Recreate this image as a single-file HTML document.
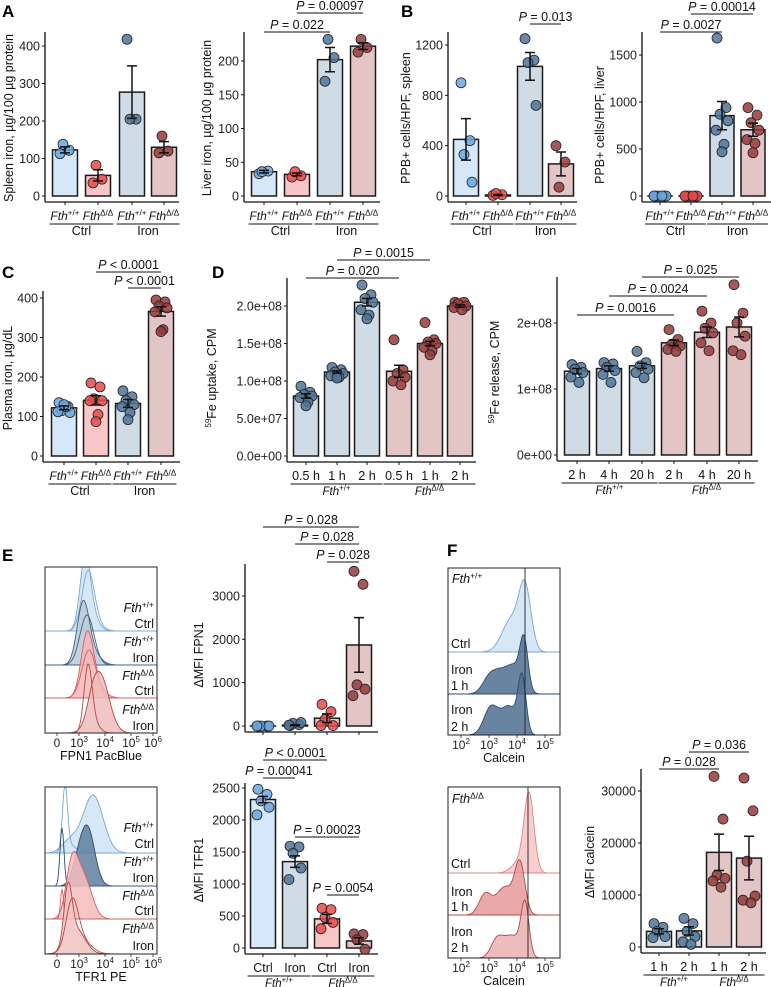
<!DOCTYPE html>
<html><head><meta charset="utf-8">
<style>
html,body{margin:0;padding:0;background:#fff;}
svg{display:block;font-family:"Liberation Sans",Arial,sans-serif;}
</style></head>
<body>
<svg id="fig" width="771" height="987" viewBox="0 0 771 987" xmlns="http://www.w3.org/2000/svg">
<text x="2" y="17" font-size="17" font-weight="bold">A</text>
<text x="401" y="17" font-size="17" font-weight="bold">B</text>
<text x="2" y="278" font-size="17" font-weight="bold">C</text>
<text x="212" y="278" font-size="17" font-weight="bold">D</text>
<text x="2" y="561" font-size="17" font-weight="bold">E</text>
<text x="447" y="556" font-size="17" font-weight="bold">F</text>
</svg>
<script>
// ---------- DATA ----------
const spleenMeans=[123,55,277,130];
const spleenSem=[8,15,70,15];
const spleenPts=[[113,122,138],[35,45,82],[418,205,205],[115,120,160]];
const liverMeans=[36,32,202,222];
const liverSem=[2,2,18,5];
const liverPts=[[33,37,36],[28,30,36],[170,205,232],[213,220,232]];
const ppbSpleenMeans=[450,8,1030,255];
const ppbSpleenSem=[165,4,110,95];
const ppbSpleenPts=[[900,440,330,110],[5,10,20],[1250,1080,1060,720],[400,270,70]];
const ppbLiverMeans=[0,0,855,705];
const ppbLiverSem=[0,0,150,70];
const ppbLiverPts=[[0,0,0,0,0,0],[0,0,0,0,0,0],[1680,940,870,800,700,550,470],[940,860,780,700,600,560,460]];
const plasmaMeans=[122,141,133,366];
const plasmaSem=[5,12,10,12];
const plasmaPts=[[135,125,115,110,112,125,130],[185,175,145,140,140,105,87],[165,150,140,130,125,110,92],[395,390,380,375,365,320,315]];
const uptakeMeans=[80,112,205,113,150,200]; // x1e6 CPM
const uptakeSem=[3,1.5,5,8,3,1.5];
const uptakePts=[[93,85,82,80,78,72,67],[118,115,112,110,107,105,104],[228,215,210,205,195,188,183],[155,115,110,105,100,95],[178,155,152,150,145,140,135],[205,205,203,200,198,195]];
const releaseMeans=[127,131,135,170,186,194]; // x1e6 CPM
const releaseSem=[4,4,4,4,8,15];
const releasePts=[[137,133,130,125,118,110],[140,138,133,128,122,110],[157,140,135,130,125,117],[190,175,168,165,160,157],[218,200,192,185,170,158],[258,215,200,180,158,152]];
const fpnMeans=[0,20,180,1870];
const fpnSem=[0,10,100,630];
const fpnPts=[[0,0,0,0,0],[10,30,60,80,20],[500,330,150,10,10],[3570,3270,950,850,700]];
const tfrMeans=[2320,1350,455,110];
const tfrSem=[50,90,70,50];
const tfrPts=[[2480,2400,2300,2200,2080],[1590,1580,1480,1250,1070],[620,600,480,400,300],[220,210,130,-20]];
const calceinMeans=[3000,3100,18200,17100];
const calceinSem=[500,800,3500,4200];
const calceinPts=[[4500,3800,3000,2000,1800],[5500,4500,3000,2000,1000,500],[32800,24600,13800,13200,12700,11500],[32500,26200,16500,9800,9000,8500]];

const ticks400=[0,100,200,300,400];
const ticks200=[0,50,100,150,200];
const ticks1200=[0,400,800,1200];
const ticks1500=[0,500,1000,1500];
const uptakeTicks=[0,50,100,150,200];
const uptakeTickLabels=["0.0e+00","5.0e+07","1.0e+08","1.5e+08","2.0e+08"];
const releaseTicks=[0,100,200];
const releaseTickLabels=["0e+00","1e+08","2e+08"];
const fpnTicks=[0,1000,2000,3000];
const tfrTicks=[0,500,1000,1500,2000,2500];
const calceinTicks=[0,10000,20000,30000];

// histogram components [center px, sd px, amplitude px]
const fpnHist=[
 [{fill:"#cfe3f5",stroke:"#7aa7d0",c:[[85,5,62],[90,7,20]]},{fill:"none",stroke:"#7aa7d0",c:[[88,6,52],[92,8,10]]}],
 [{fill:"#b9c9d8",stroke:"#3f6184",c:[[83,6,58],[92,8,12]]},{fill:"none",stroke:"#3f6184",c:[[87,7,50]]}],
 [{fill:"#f4b7b7",stroke:"#d06060",c:[[87,6,58],[95,8,15]]},{fill:"none",stroke:"#d06060",c:[[89,7,48]]}],
 [{fill:"#eebcbc",stroke:"#b04848",c:[[100,9,58],[92,5,10]]},{fill:"none",stroke:"#b04848",c:[[88,4,62],[93,6,10]]}]
];
const tfrHist=[
 [{fill:"#cfe3f5",stroke:"#7aa7d0",c:[[93,10,58],[70,8,12]]},{fill:"none",stroke:"#7aa7d0",c:[[65,2.5,63],[70,6,8]]}],
 [{fill:"#5f7f9f",stroke:"#2d4a69",c:[[88,7,55],[78,6,20]]},{fill:"none",stroke:"#2d4a69",c:[[62,2,58]]}],
 [{fill:"#f4bcbc",stroke:"#d06060",c:[[72,6,52],[84,8,40]]},{fill:"none",stroke:"#d06060",c:[[62,1.5,30]]}],
 [{fill:"#f2c2c2",stroke:"#b04848",c:[[68,4,55],[76,9,25]]},{fill:"none",stroke:"#b04848",c:[[72,6,45],[80,10,15]]}]
];
const calceinWtHist=[
 [{fill:"#cfe3f5",stroke:"#7aa7d0",c:[[525,6,62],[511,9,32]]}],
 [{fill:"#4f6f90",stroke:"#2d4a69",c:[[524,4,48],[513,8,28],[490,7,18],[500,6,12]]}],
 [{fill:"#4f6f90",stroke:"#2d4a69",c:[[522,4,58],[511,6,22],[491,7,28],[503,6,12]]}]
];
const calceinKoHist=[
 [{fill:"#f6c4c4",stroke:"#d88a8a",c:[[529,5,78],[518,7,10]]}],
 [{fill:"#e59a9a",stroke:"#b04848",c:[[520,5,48],[505,9,28],[485,6,20]]}],
 [{fill:"#eab0b0",stroke:"#b04848",c:[[525,4,52],[512,8,22],[497,6,18]]}]
];

// ---------- DRAWING ----------
const NS="http://www.w3.org/2000/svg";
const svg=document.getElementById('fig');
function mk(tag,attrs,parent){const e=document.createElementNS(NS,tag);for(const k in attrs)e.setAttribute(k,attrs[k]);(parent||svg).appendChild(e);return e;}
const COL={
 cw:{fill:"#d5e7f8",pt:"#6aa6dd"},
 ck:{fill:"#f8c6c6",pt:"#e64a4a"},
 iw:{fill:"#cfdbe5",pt:"#4d7499"},
 ik:{fill:"#e3c5c5",pt:"#963a3a"}
};
const jit=[-5,4,-2,6,-6,2,0];

function fthText(g,x,y,kind,size,anchor){
  const t=mk('text',{x:x,y:y,'font-size':size,'text-anchor':anchor||'middle',fill:'#111'},g);
  
  
  const a=mk('tspan',{'font-style':'italic'},t);a.textContent='Fth';
  const b=mk('tspan',{'font-size':size*0.68,dy:-size*0.38},t);b.textContent=kind==='wt'?'+/+':'Δ/Δ';
  return t;
}

function panel(cfg){
  const g=mk('g',{});
  
  
  const Y=v=>cfg.y0-v*(cfg.y0-cfg.topPx)/cfg.topVal;
  const xa=cfg.y0+6;
  const ax=mk('line',{x1:cfg.ax,y1:cfg.axisTop,x2:cfg.ax,y2:xa,stroke:'#111','stroke-width':1.3},g);
  
  
  const xl=mk('line',{x1:cfg.ax,y1:xa,x2:cfg.xEnd,y2:xa,stroke:'#111','stroke-width':1.3},g);
  
  
  cfg.ticks.forEach((v,i)=>{
    const y=Y(v);
    const tk=mk('line',{x1:cfg.ax-3,y1:y,x2:cfg.ax,y2:y,stroke:'#111','stroke-width':1},g);
    
    
    const tl=mk('text',{x:cfg.ax-5,y:y+4.5,'font-size':12.5,'text-anchor':'end',fill:'#222'},g);
    
    
    tl.textContent=cfg.tickLabels?cfg.tickLabels[i]:String(v);
  });
  cfg.centers.forEach(c=>{
    const tk=mk('line',{x1:c,y1:xa,x2:c,y2:xa+3,stroke:'#111','stroke-width':1},g);
    
    
  });
  cfg.means.forEach((m,i)=>{
    const c=cfg.centers[i],col=COL[cfg.colors[i]],bw=cfg.bw;
    const r=mk('rect',{x:c-bw/2,y:Y(m),width:bw,height:Math.max(cfg.y0-Y(m),0.01),fill:col.fill,stroke:'#1a1a1a','stroke-width':1.5},g);
    
    
  });
  cfg.means.forEach((m,i)=>{
    const c=cfg.centers[i],col=COL[cfg.colors[i]];
    cfg.pts[i].forEach((v,j)=>{
      const p=mk('circle',{cx:c+jit[j%jit.length],cy:Y(v),r:5,fill:col.pt,'fill-opacity':0.85,stroke:'#222','stroke-width':0.8},g);
      
      
    });
    const s=cfg.sems[i];
    if(s>0){
      const e=mk('path',{d:`M${c},${Y(m-s)}V${Y(m+s)}M${c-5},${Y(m-s)}H${c+5}M${c-5},${Y(m+s)}H${c+5}`,stroke:'#111','stroke-width':1.5,fill:'none'},g);
      
      
    }
  });
  const yt=mk('text',{x:0,y:0,'font-size':12.5,'text-anchor':'middle',fill:'#111',transform:`translate(${cfg.titleX},${cfg.titleY}) rotate(-90)`},g);
  
  
  if(cfg.titleSup){const s=mk('tspan',{'font-size':8,dy:-5},yt);s.textContent=cfg.titleSup;const r=mk('tspan',{dy:5},yt);r.textContent=cfg.title;}
  else yt.textContent=cfg.title;
  const lb=xa+18;
  if(cfg.xlabels){
    cfg.xlabels.forEach((l,i)=>{
      if(l==='wt'||l==='ko') fthText(g,cfg.centers[i],lb,l,12);
      else{const t=mk('text',{x:cfg.centers[i],y:lb,'font-size':12.5,'text-anchor':'middle',fill:'#111'},g);
        
        
        t.textContent=l;}
    });
  }
  (cfg.groups||[]).forEach(gr=>{
    const x1=cfg.centers[gr.from]-cfg.bw/2-3,x2=cfg.centers[gr.to]+cfg.bw/2+3;
    const ul=mk('line',{x1:x1,y1:lb+4,x2:x2,y2:lb+4,stroke:'#111','stroke-width':1},g);
    
    
    const cx=(x1+x2)/2;
    if(gr.label==='wt'||gr.label==='ko') fthText(g,cx,lb+15,gr.label,11.5);
    else{const t=mk('text',{x:cx,y:lb+15,'font-size':12.5,'text-anchor':'middle',fill:'#111'},g);
      
      
      t.textContent=gr.label;}
  });
  (cfg.brackets||[]).forEach(b=>{
    const x1=cfg.centers[b.a],x2=cfg.centers[b.b];
    const l=mk('line',{x1:x1,y1:b.y,x2:x2,y2:b.y,stroke:'#111','stroke-width':1},g);
    
    
    const t=mk('text',{x:(x1+x2)/2,y:b.y-3,'font-size':12.5,'text-anchor':'middle',fill:'#111'},g);
    
    
    const p=mk('tspan',{'font-style':'italic'},t);p.textContent='P';
    const r=mk('tspan',{},t);r.textContent=' '+b.t;
  });
}

const gen4=['wt','ko','wt','ko'];
const grp4=[{label:'Ctrl',from:0,to:1},{label:'Iron',from:2,to:3}];
const col4=['cw','ck','iw','ik'];

panel({name:'spleen-iron-chart',ax:45,y0:196,topVal:400,topPx:46,ticks:ticks400,centers:[65,98,132,164],bw:25,axisTop:32,xEnd:179,means:spleenMeans,sems:spleenSem,pts:spleenPts,colors:col4,title:'Spleen iron, µg/100 µg protein',titleX:13,titleY:118,xlabels:gen4,groups:grp4});
panel({name:'liver-iron-chart',ax:244,y0:196,topVal:200,topPx:61,ticks:ticks200,centers:[264,297,330,363],bw:25,axisTop:32,xEnd:380,means:liverMeans,sems:liverSem,pts:liverPts,colors:col4,title:'Liver iron, µg/100 µg protein',titleX:211,titleY:118,xlabels:gen4,groups:grp4,
  brackets:[{a:0,b:2,y:32,t:'= 0.022'},{a:1,b:3,y:13,t:'= 0.00097'}]});
panel({name:'ppb-spleen-chart',ax:448,y0:196,topVal:1200,topPx:45,ticks:ticks1200,centers:[466,498,530,561],bw:25,axisTop:32,xEnd:577,means:ppbSpleenMeans,sems:ppbSpleenSem,pts:ppbSpleenPts,colors:col4,title:'PPB+ cells/HPF, spleen',titleX:410,titleY:118,xlabels:gen4,groups:grp4,
  brackets:[{a:2,b:3,y:24,t:'= 0.013'}]});
panel({name:'ppb-liver-chart',ax:642,y0:196,topVal:1500,topPx:55,ticks:ticks1500,centers:[660,691,722,753],bw:24,axisTop:32,xEnd:771,means:ppbLiverMeans,sems:ppbLiverSem,pts:ppbLiverPts,colors:col4,title:'PPB+ cells/HPF, liver',titleX:604,titleY:125,xlabels:gen4,groups:grp4,
  brackets:[{a:0,b:2,y:32,t:'= 0.0027'},{a:1,b:3,y:14,t:'= 0.00014'}]});
panel({name:'plasma-iron-chart',ax:43,y0:456,topVal:400,topPx:298,ticks:ticks400,centers:[64,96,128,161],bw:25,axisTop:291,xEnd:180,means:plasmaMeans,sems:plasmaSem,pts:plasmaPts,colors:col4,title:'Plasma iron, µg/dL',titleX:12,titleY:378,xlabels:gen4,groups:grp4,
  brackets:[{a:1,b:3,y:272,t:'< 0.0001'},{a:2,b:3,y:288,t:'< 0.0001'}]});
panel({name:'fe-uptake-chart',ax:287,y0:456,topVal:200,topPx:306,ticks:uptakeTicks,tickLabels:uptakeTickLabels,centers:[306,337,367,399,430,460],bw:25,axisTop:278,xEnd:476,means:uptakeMeans,sems:uptakeSem,pts:uptakePts,colors:['iw','iw','iw','ik','ik','ik'],title:'Fe uptake, CPM',titleSup:'59',titleX:216,titleY:378,
  xlabels:['0.5 h','1 h','2 h','0.5 h','1 h','2 h'],groups:[{label:'wt',from:0,to:2},{label:'ko',from:3,to:5}],
  brackets:[{a:0,b:3,y:278,t:'= 0.020'},{a:1,b:4,y:260,t:'= 0.0015'}]});
panel({name:'fe-release-chart',ax:557,y0:455,topVal:200,topPx:323,ticks:releaseTicks,tickLabels:releaseTickLabels,centers:[577,609,642,674,707,739],bw:25,axisTop:277,xEnd:758,means:releaseMeans,sems:releaseSem,pts:releasePts,colors:['iw','iw','iw','ik','ik','ik'],title:'Fe release, CPM',titleSup:'59',titleX:499,titleY:372,
  xlabels:['2 h','4 h','20 h','2 h','4 h','20 h'],groups:[{label:'wt',from:0,to:2},{label:'ko',from:3,to:5}],
  brackets:[{a:0,b:3,y:315,t:'= 0.0016'},{a:1,b:4,y:296,t:'= 0.0024'},{a:2,b:5,y:277,t:'= 0.025'}]});
panel({name:'fpn1-mfi-chart',ax:245,y0:726,topVal:3000,topPx:596,ticks:fpnTicks,centers:[263,295,327,359],bw:25,axisTop:564,xEnd:378,means:fpnMeans,sems:fpnSem,pts:fpnPts,colors:['cw','iw','ck','ik'],title:'ΔMFI FPN1',titleX:203,titleY:655,
  brackets:[{a:0,b:3,y:527,t:'= 0.028'},{a:1,b:3,y:544,t:'= 0.028'},{a:2,b:3,y:562,t:'= 0.028'}]});
panel({name:'tfr1-mfi-chart',ax:245,y0:948,topVal:2500,topPx:788,ticks:tfrTicks,centers:[263,295,327,359],bw:25,axisTop:783,xEnd:378,means:tfrMeans,sems:tfrSem,pts:tfrPts,colors:['cw','iw','ck','ik'],title:'ΔMFI TFR1',titleX:203,titleY:870,
  xlabels:['Ctrl','Iron','Ctrl','Iron'],groups:[{label:'wt',from:0,to:1},{label:'ko',from:2,to:3}],
  brackets:[{a:0,b:2,y:760,t:'< 0.0001'},{a:0,b:1,y:778,t:'= 0.00041'},{a:1,b:3,y:837,t:'= 0.00023'},{a:2,b:3,y:895,t:'= 0.0054'}]});
panel({name:'calcein-mfi-chart',ax:641,y0:947,topVal:30000,topPx:791,ticks:calceinTicks,centers:[659,689,719,749],bw:25,axisTop:769,xEnd:766,means:calceinMeans,sems:calceinSem,pts:calceinPts,colors:['iw','iw','ik','ik'],title:'ΔMFI calcein',titleX:594,titleY:862,
  xlabels:['1 h','2 h','1 h','2 h'],groups:[{label:'wt',from:0,to:1},{label:'ko',from:2,to:3}],
  brackets:[{a:0,b:2,y:769,t:'= 0.028'},{a:1,b:3,y:752,t:'= 0.036'}]});

// ---------- HISTOGRAMS ----------
let clipId=0;
function histo(cfg){
  const g=mk('g',{});
  
  
  const id='clip'+(clipId++);
  const cp=mk('clipPath',{id:id},g);
  mk('rect',{x:cfg.x1,y:cfg.y1,width:cfg.x2-cfg.x1,height:cfg.y2-cfg.y1},cp);
  const inner=mk('g',{'clip-path':`url(#${id})`},g);
  cfg.rows.forEach((row,ri)=>{
    const base=cfg.bases[ri];
    row.forEach(cv=>{
      let d=`M${cfg.x1},${base}`;
      for(let x=cfg.x1;x<=cfg.x2;x+=1){
        let y=0;cv.c.forEach(k=>{y+=k[2]*Math.exp(-((x-k[0])**2)/(2*k[1]*k[1]));});
        d+=`L${x},${(base-y).toFixed(1)}`;
      }
      d+=`L${cfg.x2},${base}Z`;
      const p=mk('path',{d:d,fill:cv.fill,'fill-opacity':cv.fill==='none'?0:0.85,stroke:cv.stroke,'stroke-width':0.9},inner);
      
      
    });
    const bl=mk('line',{x1:cfg.x1,y1:base,x2:cfg.x2,y2:base,stroke:cfg.baseCol[ri],'stroke-width':0.8},inner);
    
    
  });
  if(cfg.vline){const v=mk('line',{x1:cfg.vline,y1:cfg.y1,x2:cfg.vline,y2:cfg.y2,stroke:'#222','stroke-width':0.9},inner);
    
    }
  const box=mk('rect',{x:cfg.x1,y:cfg.y1,width:cfg.x2-cfg.x1,height:cfg.y2-cfg.y1,fill:'none',stroke:'#222','stroke-width':1},g);
  
  
  cfg.ticks.forEach(tk=>{
    const t=mk('text',{x:tk[0],y:cfg.y2+14,'font-size':12,'text-anchor':'middle',fill:'#222'},g);
    
    
    if(tk[1]==='0')t.textContent='0';
    else{const a=mk('tspan',{},t);a.textContent='10';const b=mk('tspan',{'font-size':8,dy:-5},t);b.textContent=tk[1];}
    const m=mk('line',{x1:tk[0],y1:cfg.y2,x2:tk[0],y2:cfg.y2+3,stroke:'#222','stroke-width':0.8},g);
    
    
  });
  const xt=mk('text',{x:(cfg.x1+cfg.x2)/2,y:cfg.y2+27,'font-size':12.5,'text-anchor':'middle',fill:'#111'},g);
  
  
  xt.textContent=cfg.title;
  cfg.labels.forEach(l=>{
    if(l[2]==='wt'||l[2]==='ko') fthText(g,l[0],l[1],l[2],12.5,cfg.anchor);
    else{const t=mk('text',{x:l[0],y:l[1],'font-size':12.5,'text-anchor':cfg.anchor,fill:'#111'},g);
      
      
      t.textContent=l[2];}
  });
}
const eTicks=[[57,'0'],[79,'3'],[105,'4'],[131,'5'],[153,'6']];
const fTicks=[[461,'2'],[489,'3'],[517,'4'],[545,'5']];
histo({name:'fpn1-histogram',x1:45,y1:567,x2:157,y2:733,bases:[631,665,698,733],baseCol:['#7aa7d0','#3f6184','#d06060','#b04848'],rows:fpnHist,ticks:eTicks,title:'FPN1 PacBlue',anchor:'end',
  labels:[[154,612,'wt'],[154,628,'Ctrl'],[154,646,'wt'],[154,662,'Iron'],[154,680,'ko'],[154,695,'Ctrl'],[154,714,'ko'],[154,730,'Iron']]});
histo({name:'tfr1-histogram',x1:45,y1:787,x2:157,y2:954,bases:[853,886,919,954],baseCol:['#7aa7d0','#3f6184','#d06060','#b04848'],rows:tfrHist,ticks:eTicks,title:'TFR1 PE',anchor:'end',
  labels:[[154,832,'wt'],[154,848,'Ctrl'],[154,866,'wt'],[154,882,'Iron'],[154,900,'ko'],[154,915,'Ctrl'],[154,933,'ko'],[154,950,'Iron']]});
histo({name:'calcein-wt-histogram',x1:448,y1:568,x2:560,y2:735,bases:[652,694,735],baseCol:['#7aa7d0','#2d4a69','#2d4a69'],rows:calceinWtHist,ticks:fTicks,title:'Calcein',anchor:'start',vline:525,
  labels:[[452,583,'wt'],[451,648,'Ctrl'],[451,674,'Iron'],[451,690,'1 h'],[451,714,'Iron'],[451,731,'2 h']]});
histo({name:'calcein-ko-histogram',x1:448,y1:787,x2:560,y2:958,bases:[873,915,958],baseCol:['#d88a8a','#b04848','#b04848'],rows:calceinKoHist,ticks:fTicks,title:'Calcein',anchor:'start',vline:528,
  labels:[[452,803,'ko'],[451,868,'Ctrl'],[451,896,'Iron'],[451,911,'1 h'],[451,936,'Iron'],[451,952,'2 h']]});
</script>
</body></html>
